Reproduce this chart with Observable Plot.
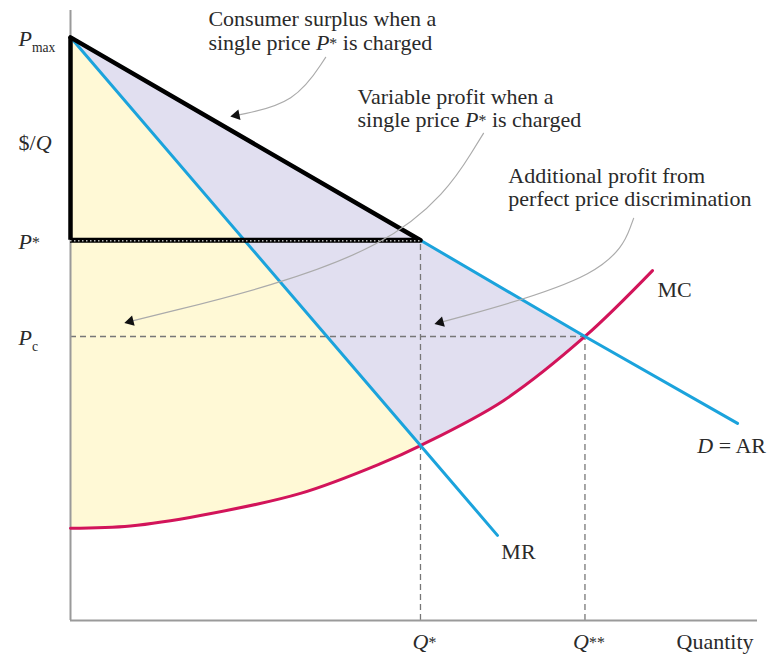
<!DOCTYPE html>
<html><head><meta charset="utf-8">
<script src="https://cdn.jsdelivr.net/npm/d3@7"></script>
<script src="https://cdn.jsdelivr.net/npm/@observablehq/plot@0.6"></script>
<style>
body{margin:0;background:#fff;}
#chart{width:773px;height:654px;}
</style></head><body><div id="chart"></div>
<script>
// ---- Key levels (Pmax scaled to 100, Q* scaled to 10) ----
const Pmax = 100, Pstar = 65.2, Pc = 48.7;
const Qstar = 10, Qstar2 = 14.7;

// Demand D = AR
const demandQ = [0, 10, 14.7, 19.06];
const demandP = [100, 65.2, 48.7, 33.8];
// Marginal revenue MR
const mrQ = [0, 10, 12.2];
const mrP = [100, 30, 14.6];
// Marginal cost MC
const mcQ = [0, 1.71, 3.71, 6.57, 8.86, 10, 12.37, 14.7, 16.63];
const mcP = [15.8, 16.2, 18.0, 21.8, 26.9, 30.0, 37.7, 48.7, 60.0];

// Annotation texts and anchors (data coordinates)
const noteText = ["Consumer surplus when a", "single price <i>P</i><sup>*</sup> is charged",
                  "Variable profit when a", "single price <i>P</i><sup>*</sup> is charged",
                  "Additional profit from", "perfect price discrimination"];
const noteQ = [3.94, 3.94, 8.2, 8.2, 12.51, 12.51];
const noteP = [103.1, 99.1, 89.7, 85.8, 76.2, 72.2];

const curveLabel = ["MC", "<i>D</i> = AR", "MR"];
const curveLabelQ = [16.77, 17.91, 12.31];
const curveLabelP = [56.6, 30.0, 11.8];

const yTickLabel = ["<i>P</i><sub>max</sub>", "$/<i>Q</i>", "<i>P</i><sup>*</sup>", "<i>P</i><sub>c</sub>"];
const yTickP = [Pmax, 82.1, Pstar, Pc];
const xTickLabel = ["<i>Q</i><sup>*</sup>", "<i>Q</i><sup>**</sup>"];
const xTickQ = [Qstar, Qstar2];

// Curved annotation arrows: start, bend control, end
const arrow1Q = [7.29, 6.43, 4.74];
const arrow1P = [96.57, 88.68, 86.62];
const arrow2Q = [11.8, 9.69, 1.71];
const arrow2P = [83.53, 63.12, 51.29];
const arrow3Q = [16.09, 15.49, 10.57];
const arrow3P = [68.95, 59.18, 51.11];
const arrowAngle = [-101.5, -104, -105.3];

// ---- tables ----
const zip = (qs, ps) => qs.map((q, i) => ({q, p: ps[i]}));
const demand = zip(demandQ, demandP);
const mr = zip(mrQ, mrP);
const mc = zip(mcQ, mcP);
const notes = noteText.map((t, i) => ({t, q: noteQ[i], p: noteP[i]}));
const cLabels = curveLabel.map((t, i) => ({t, q: curveLabelQ[i], p: curveLabelP[i]}));
const yLabels = yTickLabel.map((t, i) => ({t, p: yTickP[i]}));
const xLabels = xTickLabel.map((t, i) => ({t, q: xTickQ[i]}));
const arrows = [zip(arrow1Q, arrow1P), zip(arrow2Q, arrow2P), zip(arrow3Q, arrow3P)];
const arrowPts = arrows.flatMap((a, k) => a.map(d => ({...d, k})));
const heads = arrows.map((a, k) => ({...a[a.length - 1], a: arrowAngle[k]}));

const blue = "#1ba3dc", red = "#d2145a", yellow = "#fff9d6", lavender = "#e1dff0";
const axisGray = "#9a9a9a", dashGray = "#777", ink = "#2a2a2a";
const font = "Liberation Serif";

const plot = Plot.plot({
  width: 773, height: 654,
  marginLeft: 70, marginRight: 16, marginTop: 10, marginBottom: 34,
  x: {domain: [0, 19.63], axis: null},
  y: {domain: [0, 104.6], axis: null},
  style: {fontFamily: font, background: "#fff", color: ink},
  marks: [
    // fills
    Plot.areaY(demand.filter(d => d.q <= Qstar2), {x: "q", y: "p", fill: lavender}),
    Plot.areaY(mr.filter(d => d.q <= Qstar), {x: "q", y: "p", fill: yellow}),
    Plot.areaY(mc, {x: "q", y: "p", fill: "#fff", curve: "catmull-rom"}),
    // dashed guides
    Plot.ruleY([Pc], {x1: 0, x2: Qstar2, stroke: dashGray, strokeWidth: 1.3, strokeDasharray: "6,4"}),
    Plot.ruleX([Qstar], {y1: 0, y2: Pstar, stroke: dashGray, strokeWidth: 1.3, strokeDasharray: "6,4"}),
    Plot.ruleX([Qstar2], {y1: 0, y2: Pc, stroke: dashGray, strokeWidth: 1.3, strokeDasharray: "6,4"}),
    // axes
    Plot.ruleX([0], {stroke: axisGray, strokeWidth: 2}),
    Plot.ruleY([0], {stroke: axisGray, strokeWidth: 2}),
    // curves
    Plot.line(mc, {x: "q", y: "p", stroke: red, strokeWidth: 3, curve: "catmull-rom"}),
    Plot.line(mr, {x: "q", y: "p", stroke: blue, strokeWidth: 3}),
    Plot.line(demand, {x: "q", y: "p", stroke: blue, strokeWidth: 3}),
    // consumer surplus triangle border
    Plot.line(demand.filter(d => d.q <= Qstar), {x: "q", y: "p", stroke: "#000", strokeWidth: 4.5, strokeLinecap: "round"}),
    Plot.ruleX([0], {y1: Pstar, y2: Pmax, stroke: "#000", strokeWidth: 4.5}),
    Plot.ruleY([Pstar], {x1: 0, x2: Qstar, stroke: "#000", strokeWidth: 5}),
    Plot.ruleY([Pstar], {x1: 0, x2: Qstar, stroke: "#b8b8b8", strokeWidth: 1.4, strokeDasharray: "1.5,2.5", dy: 0.5}),
    // arrows
    Plot.line(arrowPts, {x: "q", y: "p", z: "k", stroke: "#ababab", strokeWidth: 1.2, curve: "basis"}),
    Plot.dot(heads, {x: "q", y: "p", symbol: "triangle", r: 4, fill: "#111", stroke: null, rotate: "a"}),
    // texts
    Plot.text(notes, {x: "q", y: "p", text: "t", textAnchor: "start", fontSize: 22, fill: ink}),
    Plot.text(cLabels, {x: "q", y: "p", text: "t", textAnchor: "start", fontSize: 22, fill: ink}),
    Plot.text(yLabels, {x: 0, y: "p", text: "t", textAnchor: "start", dx: -52, dy: 1.5, fontSize: 22, fill: ink}),
    Plot.text(xLabels, {x: "q", y: 0, text: "t", textAnchor: "middle", dx: 4, dy: 21, fontSize: 22, fill: ink}),
    Plot.text(["Quantity"], {x: 19.63, y: 0, text: d => d, textAnchor: "end", dx: -4, dy: 21.5, fontSize: 22, fill: ink})
  ]
});

// Turn the small <i>/<sub>/<sup> markup into real italic / sub / superscript tspans
d3.select(plot).selectAll("text").each(function () {
  const t = this.textContent;
  if (!t.includes("<")) return;
  const el = d3.select(this);
  el.text(null);
  const re = /<(i|sub|sup)>(.*?)<\/\1>|([^<]+)/g;
  let m, shift = 0;
  while ((m = re.exec(t))) {
    const span = el.append("tspan");
    const restore = () => { if (shift) { span.attr("dy", -shift); shift = 0; } };
    if (m[3] !== undefined) {
      span.text(m[3]); restore();
    } else if (m[1] === "i") {
      span.text(m[2]).attr("font-style", "italic"); restore();
    } else if (m[1] === "sub") {
      span.text(m[2]).attr("font-size", "0.62em").attr("dy", 6);
      shift = 6;
    } else {
      span.text(m[2]).attr("font-size", "0.72em").attr("dy", -1);
      shift = -1;
    }
  }
});

document.getElementById("chart").appendChild(plot);
</script>
</body></html>
